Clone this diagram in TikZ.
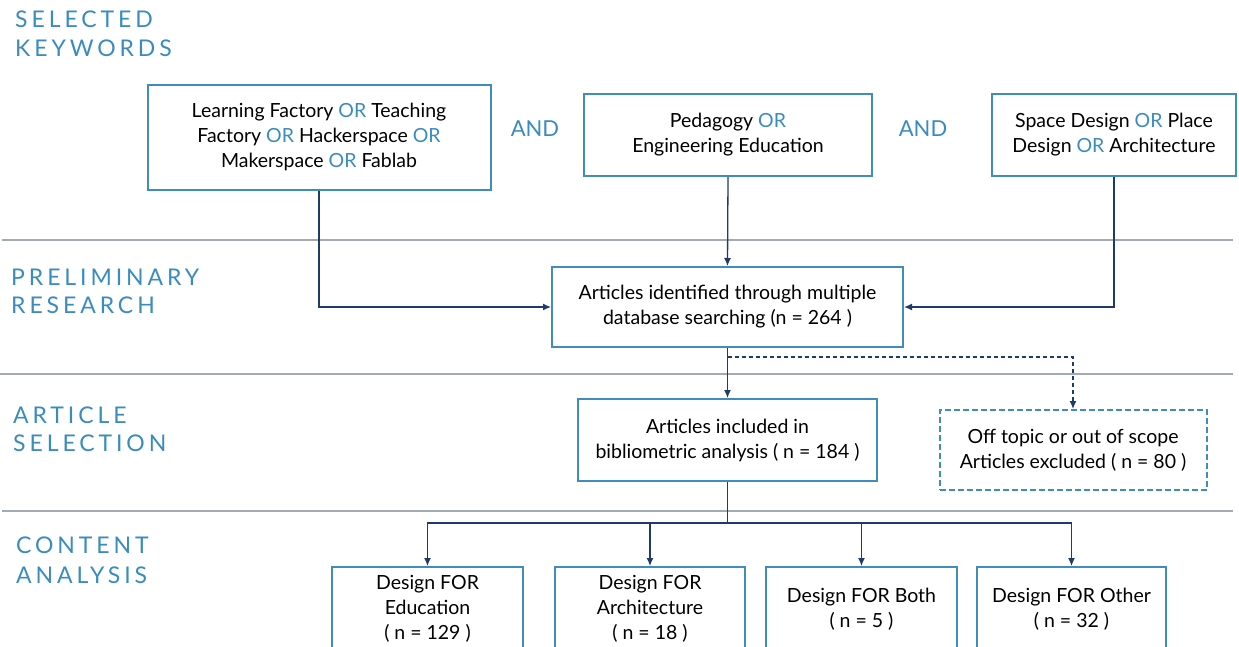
\documentclass[tikz,border=0pt]{standalone}
\usepackage{fontspec}
\setmainfont{Lato}
\newfontfamily\labfont[LetterSpace=17]{Lato}
\usetikzlibrary{arrows.meta}
\definecolor{bluetxt}{HTML}{3A8CBF}
\definecolor{boxblue}{HTML}{3F8DBD}
\definecolor{navy}{HTML}{1F3A6B}
\definecolor{sepgray}{HTML}{A3AAB2}
\newcommand\kor{\textcolor{bluetxt}{OR}}
\begin{document}
\begin{tikzpicture}[x=1pt,y=-1pt,
  box/.style={draw=boxblue, line width=2pt, align=center, inner sep=0pt,
    font=\fontsize{19.5}{25}\selectfont, text=black},
  dbox/.style={box, dash pattern=on 6pt off 3pt},
  lab/.style={anchor=base west, inner sep=0pt, text=bluetxt,
    font=\labfont\fontsize{23}{29}\selectfont},
  andlab/.style={text=bluetxt, inner sep=0pt, font=\fontsize{22}{26}\selectfont},
  sep/.style={draw=sepgray, line width=1.3pt},
  conn/.style={draw=navy, line width=1.3pt, -{Latex[length=8pt,width=7pt]}},
  plain/.style={draw=navy, line width=1.3pt},
  dconn/.style={conn, dash pattern=on 4pt off 3pt}
]
\useasboundingbox (0,0) rectangle (1239,646);
\fill[white] (0,0) rectangle (1239,646);

% separators
\draw[sep] (2,240) -- (1233,240);
\draw[sep] (0,374) -- (1233,374);
\draw[sep] (2,511) -- (1233,511);

% section labels
\node[lab] (l1a) at (15,27) {SELECTED};
\node[lab] (l1b) at (15,56) {KEYWORDS};
\node[lab] (l2a) at (11,285) {PRELIMINARY};
\node[lab] (l2b) at (11,313) {RESEARCH};
\node[lab] (l3a) at (13,423) {ARTICLE};
\node[lab] (l3b) at (13,451) {SELECTION};
\node[lab] (l4a) at (16,553) {CONTENT};
\node[lab] (l4b) at (16,583) {ANALYSIS};

% keyword boxes
\node[box, minimum width=343, minimum height=105] (b1) at (319,137)
  {Learning Factory \kor{} Teaching\\ Factory \kor{} Hackerspace \kor\\ Makerspace \kor{} Fablab};
\node[andlab] (and1) at (535,129) {AND};
\node[box, minimum width=288, minimum height=82] (b2) at (728,135)
  {Pedagogy \kor\\ Engineering Education};
\node[andlab] (and2) at (923,129) {AND};
\node[box, minimum width=244, minimum height=82] (b3) at (1114,135)
  {Space Design \kor{} Place\\ Design \kor{} Architecture};

% main flow
\node[box, minimum width=351, minimum height=80] (b4) at (727.5,307)
  {Articles identified through multiple\\ database searching (n = 264 )};
\node[box, minimum width=299, minimum height=82] (b5) at (727.5,440)
  {Articles included in\\ bibliometric analysis ( n = 184 )};
\node[dbox, minimum width=267, minimum height=80] (b6) at (1073,450)
  {Off topic or out of scope\\ Articles excluded ( n = 80 )};

% content boxes
\node[box, minimum width=191, minimum height=84] (b7) at (427.5,609)
  {Design FOR\\ Education\\ ( n = 129 )};
\node[box, minimum width=190, minimum height=84] (b8) at (650,609)
  {Design FOR\\ Architecture\\ ( n = 18 )};
\node[box, minimum width=191, minimum height=84] (b9) at (861.5,609)
  {Design FOR Both\\ ( n = 5 )};
\node[box, minimum width=189, minimum height=84] (b10) at (1071.5,609)
  {Design FOR Other\\ ( n = 32 )};

% connectors
\draw[conn] (b1.south) |- (b4.west);
\draw[conn] (b3.south) |- (b4.east);
\draw[conn] (b2.south) -- (b4.north);
\draw[conn] (b4.south) -- (b5.north);
\coordinate (dsplit) at (727.5,357);
\draw[dconn] (dsplit) -| (b6.north);
\coordinate (bsplit) at (727.5,523);
\draw[plain] (b5.south) -- (bsplit);
\draw[conn] (bsplit) -| (b7.north);
\draw[conn] (bsplit) -| (b8.north);
\draw[conn] (bsplit) -| (b9.north);
\draw[conn] (bsplit) -| (b10.north);
\end{tikzpicture}
\end{document}
